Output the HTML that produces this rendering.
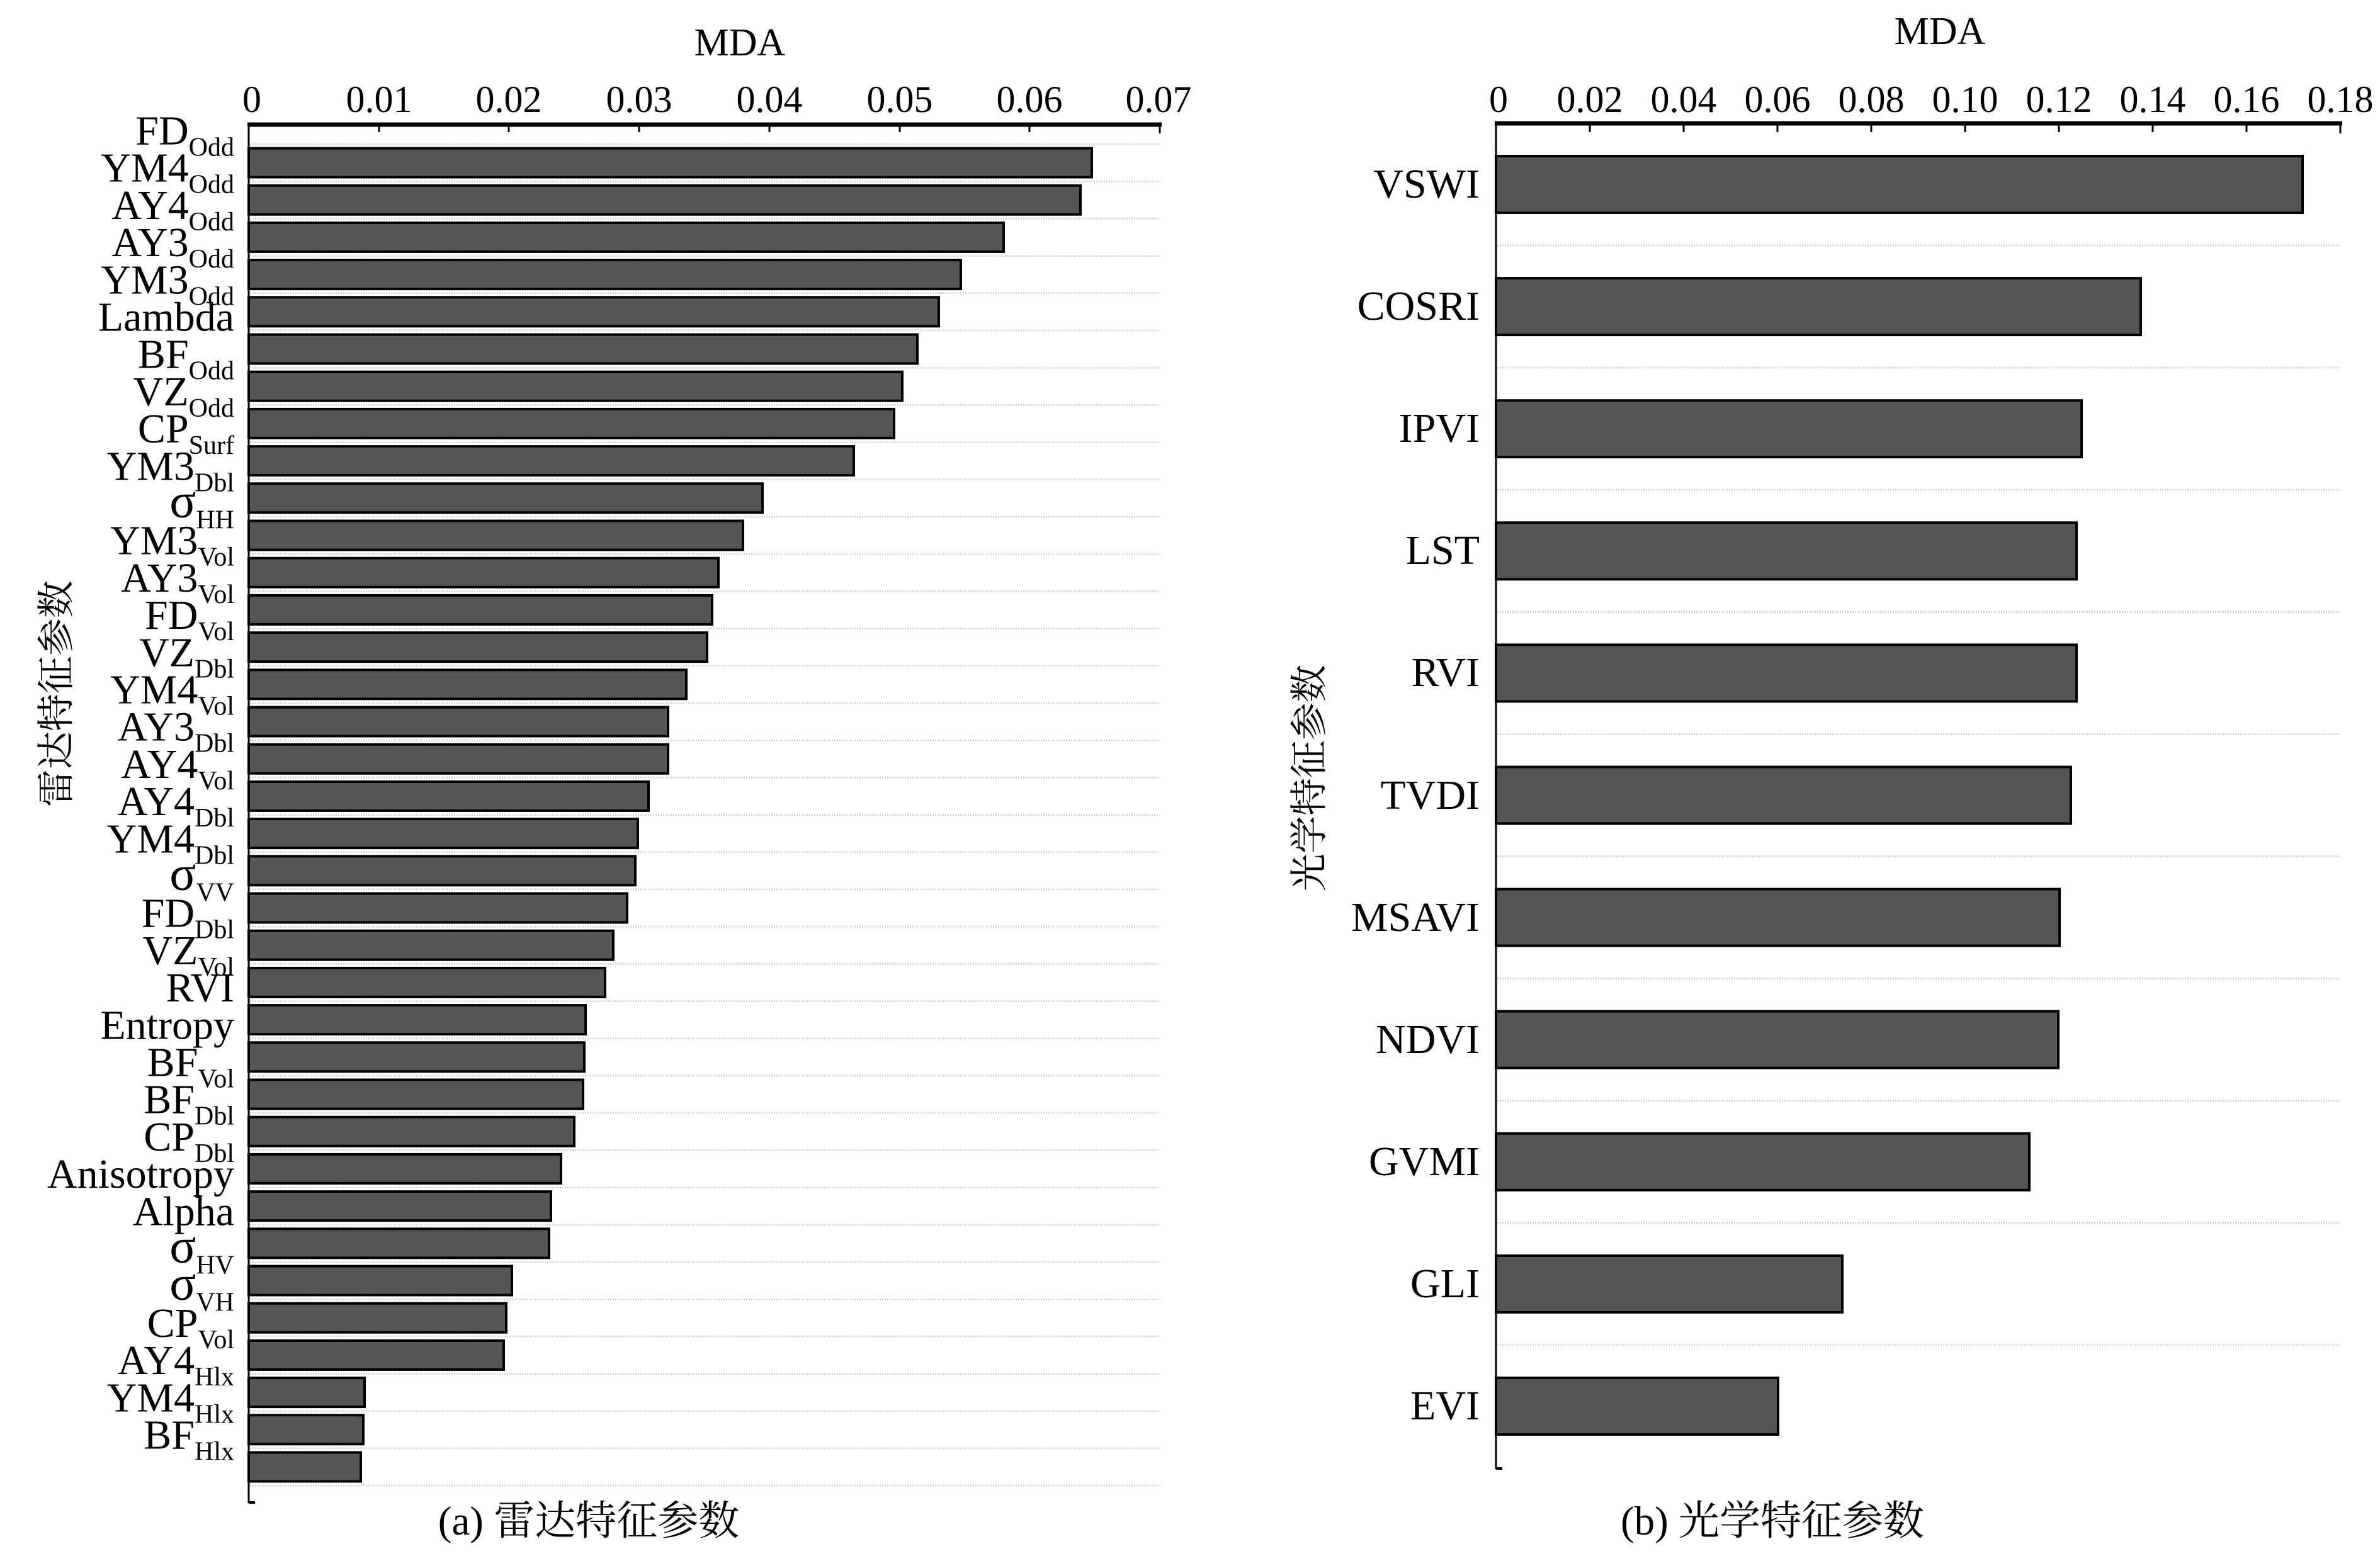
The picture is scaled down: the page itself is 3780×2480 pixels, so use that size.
<!DOCTYPE html>
<html><head><meta charset="utf-8"><style>
html,body{margin:0;padding:0;background:#fff;}
svg{display:block;}
text{font-family:"Liberation Serif","Noto Serif CJK SC","Noto Sans CJK SC",serif;fill:#000;}
</style></head><body>
<svg width="3780" height="2480" viewBox="0 0 3780 2480" xmlns="http://www.w3.org/2000/svg">
<!-- LEFT PANEL -->
<text x="1175" y="88" font-size="62" text-anchor="middle">MDA</text>
<g font-size="60" text-anchor="middle">
<text x="400" y="178">0</text><text x="602" y="178">0.01</text><text x="808" y="178">0.02</text><text x="1015" y="178">0.03</text><text x="1222" y="178">0.04</text><text x="1429" y="178">0.05</text><text x="1635" y="178">0.06</text><text x="1840" y="178">0.07</text>
</g>
<g stroke="#d4d4d4" stroke-width="3" stroke-dasharray="2 2">
<line x1="397" x2="1842" y1="229" y2="229"/><line x1="397" x2="1842" y1="288.2" y2="288.2"/><line x1="397" x2="1842" y1="347.4" y2="347.4"/><line x1="397" x2="1842" y1="406.6" y2="406.6"/><line x1="397" x2="1842" y1="465.8" y2="465.8"/><line x1="397" x2="1842" y1="525" y2="525"/><line x1="397" x2="1842" y1="584.2" y2="584.2"/><line x1="397" x2="1842" y1="643.4" y2="643.4"/><line x1="397" x2="1842" y1="702.6" y2="702.6"/><line x1="397" x2="1842" y1="761.8" y2="761.8"/><line x1="397" x2="1842" y1="821" y2="821"/><line x1="397" x2="1842" y1="880.2" y2="880.2"/><line x1="397" x2="1842" y1="939.4" y2="939.4"/><line x1="397" x2="1842" y1="998.6" y2="998.6"/><line x1="397" x2="1842" y1="1057.8" y2="1057.8"/><line x1="397" x2="1842" y1="1117" y2="1117"/><line x1="397" x2="1842" y1="1176.2" y2="1176.2"/><line x1="397" x2="1842" y1="1235.4" y2="1235.4"/><line x1="397" x2="1842" y1="1294.6" y2="1294.6"/><line x1="397" x2="1842" y1="1353.8" y2="1353.8"/><line x1="397" x2="1842" y1="1413" y2="1413"/><line x1="397" x2="1842" y1="1472.2" y2="1472.2"/><line x1="397" x2="1842" y1="1531.4" y2="1531.4"/><line x1="397" x2="1842" y1="1590.6" y2="1590.6"/><line x1="397" x2="1842" y1="1649.8" y2="1649.8"/><line x1="397" x2="1842" y1="1709" y2="1709"/><line x1="397" x2="1842" y1="1768.2" y2="1768.2"/><line x1="397" x2="1842" y1="1827.4" y2="1827.4"/><line x1="397" x2="1842" y1="1886.6" y2="1886.6"/><line x1="397" x2="1842" y1="1945.8" y2="1945.8"/><line x1="397" x2="1842" y1="2005" y2="2005"/><line x1="397" x2="1842" y1="2064.2" y2="2064.2"/><line x1="397" x2="1842" y1="2123.4" y2="2123.4"/><line x1="397" x2="1842" y1="2182.6" y2="2182.6"/><line x1="397" x2="1842" y1="2241.8" y2="2241.8"/><line x1="397" x2="1842" y1="2301" y2="2301"/><line x1="397" x2="1842" y1="2360.2" y2="2360.2"/>
</g>
<g fill="#555" stroke="#000" stroke-width="4">
<rect x="395" y="235.5" width="1339" height="46"/><rect x="395" y="294.7" width="1321" height="46"/><rect x="395" y="353.9" width="1199" height="46"/><rect x="395" y="413.1" width="1131" height="46"/><rect x="395" y="472.3" width="1096" height="46"/><rect x="395" y="531.5" width="1062" height="46"/><rect x="395" y="590.7" width="1038" height="46"/><rect x="395" y="649.9" width="1025" height="46"/><rect x="395" y="709.1" width="961" height="46"/><rect x="395" y="768.3" width="816" height="46"/><rect x="395" y="827.5" width="785" height="46"/><rect x="395" y="886.7" width="746" height="46"/><rect x="395" y="945.9" width="736" height="46"/><rect x="395" y="1005.1" width="728" height="46"/><rect x="395" y="1064.3" width="695" height="46"/><rect x="395" y="1123.5" width="666" height="46"/><rect x="395" y="1182.7" width="666" height="46"/><rect x="395" y="1241.9" width="635" height="46"/><rect x="395" y="1301.1" width="618" height="46"/><rect x="395" y="1360.3" width="614" height="46"/><rect x="395" y="1419.5" width="601" height="46"/><rect x="395" y="1478.7" width="579" height="46"/><rect x="395" y="1537.9" width="566" height="46"/><rect x="395" y="1597.1" width="535" height="46"/><rect x="395" y="1656.3" width="533" height="46"/><rect x="395" y="1715.5" width="531" height="46"/><rect x="395" y="1774.7" width="517" height="46"/><rect x="395" y="1833.9" width="496" height="46"/><rect x="395" y="1893.1" width="480" height="46"/><rect x="395" y="1952.3" width="477" height="46"/><rect x="395" y="2011.5" width="418" height="46"/><rect x="395" y="2070.7" width="409" height="46"/><rect x="395" y="2129.9" width="405" height="46"/><rect x="395" y="2189.1" width="184" height="46"/><rect x="395" y="2248.3" width="182" height="46"/><rect x="395" y="2307.5" width="178" height="46"/>
</g>
<g stroke="#000">
<line x1="393" x2="1845" y1="198" y2="198" stroke-width="7"/>
<line x1="395" x2="395" y1="198" y2="2388" stroke-width="3"/>
<line x1="395" x2="405" y1="2387" y2="2387" stroke-width="4"/>
<g stroke-width="3"><line x1="602" x2="602" y1="198" y2="210"/><line x1="808" x2="808" y1="198" y2="210"/><line x1="1015" x2="1015" y1="198" y2="210"/><line x1="1222" x2="1222" y1="198" y2="210"/><line x1="1429" x2="1429" y1="198" y2="210"/><line x1="1635" x2="1635" y1="198" y2="210"/><line x1="1842" x2="1842" y1="198" y2="212"/></g>
</g>
<g font-size="66" text-anchor="end">
<text x="372" y="229.5">FD<tspan font-size="42" dy="18">Odd</tspan></text>
<text x="372" y="288.7">YM4<tspan font-size="42" dy="18">Odd</tspan></text>
<text x="372" y="347.9">AY4<tspan font-size="42" dy="18">Odd</tspan></text>
<text x="372" y="407.1">AY3<tspan font-size="42" dy="18">Odd</tspan></text>
<text x="372" y="466.3">YM3<tspan font-size="42" dy="18">Odd</tspan></text>
<text x="372" y="525.5">Lambda</text>
<text x="372" y="584.7">BF<tspan font-size="42" dy="18">Odd</tspan></text>
<text x="372" y="643.9">VZ<tspan font-size="42" dy="18">Odd</tspan></text>
<text x="372" y="703.1">CP<tspan font-size="42" dy="18">Surf</tspan></text>
<text x="372" y="762.3">YM3<tspan font-size="42" dy="18">Dbl</tspan></text>
<text x="372" y="821.5"><tspan font-size="78">σ</tspan><tspan font-size="42" dy="18">HH</tspan></text>
<text x="372" y="880.7">YM3<tspan font-size="42" dy="18">Vol</tspan></text>
<text x="372" y="939.9">AY3<tspan font-size="42" dy="18">Vol</tspan></text>
<text x="372" y="999.1">FD<tspan font-size="42" dy="18">Vol</tspan></text>
<text x="372" y="1058.3">VZ<tspan font-size="42" dy="18">Dbl</tspan></text>
<text x="372" y="1117.5">YM4<tspan font-size="42" dy="18">Vol</tspan></text>
<text x="372" y="1176.7">AY3<tspan font-size="42" dy="18">Dbl</tspan></text>
<text x="372" y="1235.9">AY4<tspan font-size="42" dy="18">Vol</tspan></text>
<text x="372" y="1295.1">AY4<tspan font-size="42" dy="18">Dbl</tspan></text>
<text x="372" y="1354.3">YM4<tspan font-size="42" dy="18">Dbl</tspan></text>
<text x="372" y="1413.5"><tspan font-size="78">σ</tspan><tspan font-size="42" dy="18">VV</tspan></text>
<text x="372" y="1472.7">FD<tspan font-size="42" dy="18">Dbl</tspan></text>
<text x="372" y="1531.9">VZ<tspan font-size="42" dy="18">Vol</tspan></text>
<text x="372" y="1591.1">RVI</text>
<text x="372" y="1650.3">Entropy</text>
<text x="372" y="1709.5">BF<tspan font-size="42" dy="18">Vol</tspan></text>
<text x="372" y="1768.7">BF<tspan font-size="42" dy="18">Dbl</tspan></text>
<text x="372" y="1827.9">CP<tspan font-size="42" dy="18">Dbl</tspan></text>
<text x="372" y="1887.1">Anisotropy</text>
<text x="372" y="1946.3">Alpha</text>
<text x="372" y="2005.5"><tspan font-size="78">σ</tspan><tspan font-size="42" dy="18">HV</tspan></text>
<text x="372" y="2064.7"><tspan font-size="78">σ</tspan><tspan font-size="42" dy="18">VH</tspan></text>
<text x="372" y="2123.9">CP<tspan font-size="42" dy="18">Vol</tspan></text>
<text x="372" y="2183.1">AY4<tspan font-size="42" dy="18">Hlx</tspan></text>
<text x="372" y="2242.3">YM4<tspan font-size="42" dy="18">Hlx</tspan></text>
<text x="372" y="2301.5">BF<tspan font-size="42" dy="18">Hlx</tspan></text>
</g>
<text x="0" y="0" font-size="60" text-anchor="middle" transform="translate(110 1102) rotate(-90)">雷达特征参数</text>
<text x="935" y="2438" font-size="65" text-anchor="middle">(a) 雷达特征参数</text>

<!-- RIGHT PANEL -->
<text x="3081" y="70" font-size="62" text-anchor="middle">MDA</text>
<g font-size="60" text-anchor="middle">
<text x="2380" y="178">0</text><text x="2525" y="178">0.02</text><text x="2674" y="178">0.04</text><text x="2823" y="178">0.06</text><text x="2972" y="178">0.08</text><text x="3121" y="178">0.10</text><text x="3270" y="178">0.12</text><text x="3419" y="178">0.14</text><text x="3568" y="178">0.16</text><text x="3717" y="178">0.18</text>
</g>
<g stroke="#d4d4d4" stroke-width="3" stroke-dasharray="2 2">
<line x1="2378" x2="3717" y1="390" y2="390"/><line x1="2378" x2="3717" y1="584.1" y2="584.1"/><line x1="2378" x2="3717" y1="778.2" y2="778.2"/><line x1="2378" x2="3717" y1="972.3" y2="972.3"/><line x1="2378" x2="3717" y1="1166.4" y2="1166.4"/><line x1="2378" x2="3717" y1="1360.5" y2="1360.5"/><line x1="2378" x2="3717" y1="1554.6" y2="1554.6"/><line x1="2378" x2="3717" y1="1748.7" y2="1748.7"/><line x1="2378" x2="3717" y1="1942.8" y2="1942.8"/><line x1="2378" x2="3717" y1="2136.9" y2="2136.9"/>
</g>
<g fill="#555" stroke="#000" stroke-width="4">
<rect x="2376" y="248" width="1281" height="90"/><rect x="2376" y="442.1" width="1024" height="90"/><rect x="2376" y="636.2" width="930" height="90"/><rect x="2376" y="830.3" width="922" height="90"/><rect x="2376" y="1024.4" width="922" height="90"/><rect x="2376" y="1218.5" width="913" height="90"/><rect x="2376" y="1412.6" width="895" height="90"/><rect x="2376" y="1606.7" width="893" height="90"/><rect x="2376" y="1800.8" width="847" height="90"/><rect x="2376" y="1994.9" width="550" height="90"/><rect x="2376" y="2189" width="448" height="90"/>
</g>
<g stroke="#000">
<line x1="2374" x2="3720" y1="196" y2="196" stroke-width="7"/>
<line x1="2376" x2="2376" y1="196" y2="2334" stroke-width="3"/>
<line x1="2376" x2="2386" y1="2333" y2="2333" stroke-width="4"/>
<g stroke-width="3"><line x1="2525" x2="2525" y1="196" y2="210"/><line x1="2674" x2="2674" y1="196" y2="210"/><line x1="2823" x2="2823" y1="196" y2="210"/><line x1="2972" x2="2972" y1="196" y2="210"/><line x1="3121" x2="3121" y1="196" y2="210"/><line x1="3270" x2="3270" y1="196" y2="210"/><line x1="3419" x2="3419" y1="196" y2="210"/><line x1="3568" x2="3568" y1="196" y2="210"/><line x1="3717" x2="3717" y1="196" y2="212"/></g>
</g>
<g font-size="66" text-anchor="end">
<text x="2350" y="314">VSWI</text><text x="2350" y="508">COSRI</text><text x="2350" y="702">IPVI</text><text x="2350" y="896">LST</text><text x="2350" y="1090">RVI</text><text x="2350" y="1285">TVDI</text><text x="2350" y="1479">MSAVI</text><text x="2350" y="1673">NDVI</text><text x="2350" y="1867">GVMI</text><text x="2350" y="2061">GLI</text><text x="2350" y="2255">EVI</text>
</g>
<text x="0" y="0" font-size="60" text-anchor="middle" transform="translate(2100 1236) rotate(-90)">光学特征参数</text>
<text x="2815" y="2438" font-size="65" text-anchor="middle">(b) 光学特征参数</text>
</svg>
</body></html>
